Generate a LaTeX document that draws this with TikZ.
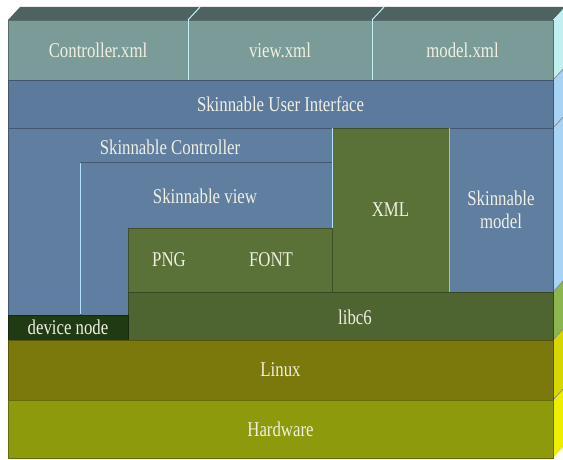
\documentclass[tikz,border=0pt]{standalone}
\usepackage{fontspec}
\setmainfont[FakeStretch=0.8]{Liberation Serif}
\usepackage{tikz}
\usetikzlibrary{positioning}

\definecolor{xmlfront}{HTML}{7A9B97}
\definecolor{xmltop}{HTML}{4E6361}
\definecolor{sidecyan}{HTML}{C2F0F0}
\definecolor{uiblue}{HTML}{5B7A9C}
\definecolor{midblue}{HTML}{5F7EA0}
\definecolor{sideblue}{HTML}{A8D3F5}
\definecolor{pkggreen}{HTML}{5A7137}
\definecolor{libgreen}{HTML}{4E6531}
\definecolor{sidegreen}{HTML}{8BB54F}
\definecolor{devgreen}{HTML}{203A14}
\definecolor{linuxolive}{HTML}{7B790B}
\definecolor{sideolive}{HTML}{D6D600}
\definecolor{hwolive}{HTML}{8C9A0B}
\definecolor{sideyellow}{HTML}{EEEE00}
\definecolor{txt}{HTML}{F0F0E2}
\definecolor{hiblue}{HTML}{B4E0FF}
\definecolor{higreen}{HTML}{A6CC6C}

\begin{document}
\begin{tikzpicture}[x=1pt, y=-1pt,
  blk/.style={fill=#1, draw=#1!70!black, line width=0.8pt},
  layer/.style={blk=#1, anchor=north west, inner sep=0pt, outer sep=0pt,
                text=txt, align=center},
  flat/.style={fill=#1, anchor=north west, inner sep=0pt, outer sep=0pt,
               text=txt, align=center},
  every node/.style={font=\fontsize{21}{23}\selectfont, text depth=0pt}
]
  \useasboundingbox (0,0) rectangle (563,460);

  % top face and right faces
  \fill[xmltop] (8,20) -- (20,7) -- (565,7) -- (553,20) -- cycle;
  \foreach \ya/\yb/\c in {20/80/sidecyan, 80/292/sideblue, 292/340/sidegreen,
                          340/400/sideolive, 400/458/sideyellow}
    \fill[\c] (553,\ya) -- (565,\ya-13) -- (565,\yb-13) -- (553,\yb) -- cycle;
  \foreach \ya in {80,128,292,340,400}
    \draw[black!45, line width=0.8pt] (553,\ya) -- (565,\ya-13);

  % xml files
  \node[layer=xmlfront, minimum width=180, minimum height=60] (ctrlxml) at (8,20) {Controller.xml};
  \node[layer=xmlfront, minimum width=184, minimum height=60] (viewxml) at (188,20) {view.xml};
  \node[layer=xmlfront, minimum width=181, minimum height=60] (modelxml) at (372,20) {model.xml};
  \draw[sidecyan, line width=1pt] (ctrlxml.north east) -- (ctrlxml.south east)
                                  (viewxml.north east) -- (viewxml.south east);
  \draw[sidecyan, line width=1pt] (ctrlxml.north east) -- ++(12,-13)
                                  (viewxml.north east) -- ++(12,-13);

  \node[layer=uiblue, minimum width=545, minimum height=48] (ui) at (8,80) {Skinnable User Interface};

  % controller and view
  \draw[blk=midblue] (8,128) -- (332,128) -- (332,162) -- (80,162) -- (80,315) -- (8,315) -- cycle;
  \node[text=txt] (ctrl) at (170,147) {Skinnable Controller};
  \draw[blk=midblue] (80,162) -- (332,162) -- (332,228) -- (128,228) -- (128,315) -- (80,315) -- cycle;
  \node[text=txt] (view) at (205,196) {Skinnable view};
  \draw[hiblue, line width=1pt] (80,163) -- (80,314);

  % packages
  \node[flat=pkggreen, minimum width=82, minimum height=64] (png) at (128,228) {PNG};
  \node[flat=pkggreen, minimum width=122, minimum height=64] (font) at (210,228) {FONT};
  \draw[pkggreen!70!black, line width=0.8pt] (png.north west) rectangle (font.south east);
  \draw[higreen, line width=1pt] (font.north east) -- (font.south east);

  \node[layer=pkggreen, minimum width=117, minimum height=164] (xml) at (332,128) {XML};
  \node[layer=midblue, minimum width=104, minimum height=164] (model) at (449,128) {Skinnable\\model};
  \draw[higreen, line width=1pt] (xml.north east) -- (xml.south east);
  \draw[hiblue, line width=1pt] (xml.north west) -- ([yshift=-100pt]xml.north west);

  % lower layers
  \node[layer=libgreen, minimum width=425, minimum height=48] (libc) at (128,292) {};
  \node[text=txt] (libctext) at (355,317) {libc6};
  \node[layer=devgreen, minimum width=120, minimum height=25] (devnode) at (8,315) {device node};
  \node[layer=linuxolive, minimum width=545, minimum height=60] (linux) at (8,340) {Linux};
  \node[layer=hwolive, minimum width=545, minimum height=58] (hw) at (8,400) {Hardware};
\end{tikzpicture}
\end{document}
